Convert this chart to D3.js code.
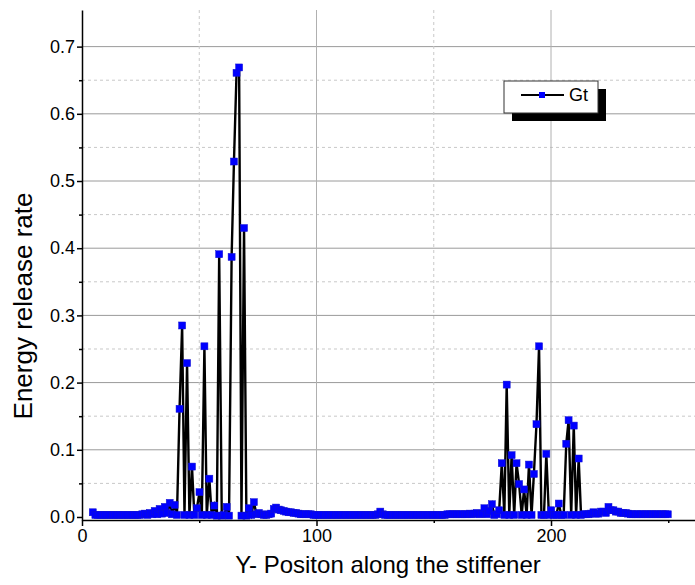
<!DOCTYPE html>
<html>
<head>
<meta charset="utf-8">
<script src="https://cdnjs.cloudflare.com/ajax/libs/d3/7.8.5/d3.min.js"></script>
<style>
  body { margin: 0; background: #fff; }
  svg { display: block; font-family: "Liberation Sans", Arial, sans-serif; }
</style>
</head>
<body>
<svg id="chart" width="695" height="585"></svg>
<script>
// sample positions along the stiffener (mm)
var positions = [
    4.6, 5.7, 6.7, 7.8, 8.8, 9.9, 10.9, 12.0, 13.1, 14.1,
    15.2, 16.2, 17.3, 18.3, 19.4, 20.5, 21.5, 22.6, 23.6, 24.7,
    25.7, 26.8, 27.9, 28.9, 30.0, 31.0, 32.1, 33.1, 34.2, 35.3,
    36.3, 37.4, 38.4, 39.5, 40.5, 41.6, 42.7, 43.7, 44.8, 45.8,
    46.9, 47.9, 49.0, 50.1, 51.1, 52.2, 53.2, 54.3, 55.3, 56.4,
    57.5, 58.5, 59.6, 60.6, 61.7, 62.7, 63.8, 64.8, 65.9, 67.0,
    68.0, 69.1, 70.1, 71.2, 72.2, 73.3, 74.4, 75.4, 76.5, 77.5,
    78.6, 79.6, 80.7, 81.8, 82.8, 83.9, 84.9, 86.0, 87.0, 88.1,
    89.2, 90.2, 91.3, 92.3, 93.4, 94.4, 95.5, 96.6, 97.6, 98.7,
    99.7, 100.8, 101.8, 102.9, 104.0, 105.0, 106.1, 107.1, 108.2, 109.2,
    110.3, 111.4, 112.4, 113.5, 114.5, 115.6, 116.6, 117.7, 118.8, 119.8,
    120.9, 121.9, 123.0, 124.0, 125.1, 126.2, 127.2, 128.3, 129.3, 130.4,
    131.4, 132.5, 133.6, 134.6, 135.7, 136.7, 137.8, 138.8, 139.9, 141.0,
    142.0, 143.1, 144.1, 145.2, 146.2, 147.3, 148.4, 149.4, 150.5, 151.5,
    152.6, 153.6, 154.7, 155.8, 156.8, 157.9, 158.9, 160.0, 161.0, 162.1,
    163.2, 164.2, 165.3, 166.3, 167.4, 168.4, 169.5, 170.5, 171.6, 172.7,
    173.7, 174.8, 175.8, 176.9, 177.9, 179.0, 180.1, 181.1, 182.2, 183.2,
    184.3, 185.3, 186.4, 187.5, 188.5, 189.6, 190.6, 191.7, 192.7, 193.8,
    194.9, 195.9, 197.0, 198.0, 199.1, 200.1, 201.2, 202.3, 203.3, 204.4,
    205.4, 206.5, 207.5, 208.6, 209.7, 210.7, 211.8, 212.8, 213.9, 214.9,
    216.0, 217.1, 218.1, 219.2, 220.2, 221.3, 222.3, 223.4, 224.5, 225.5,
    226.6, 227.6, 228.7, 229.7, 230.8, 231.9, 232.9, 234.0, 235.0, 236.1,
    237.1, 238.2, 239.3, 240.3, 241.4, 242.4, 243.5, 244.5, 245.6, 246.7,
    247.7, 248.8, 249.8
];

// Gt values at each position
var gtValues = [
    0.007, 0.003, 0.003, 0.003, 0.003, 0.003, 0.003, 0.003, 0.003, 0.003,
    0.003, 0.003, 0.003, 0.003, 0.003, 0.003, 0.003, 0.003, 0.003, 0.003,
    0.004, 0.005, 0.003, 0.006, 0.004, 0.009, 0.004, 0.012, 0.005, 0.015,
    0.006, 0.021, 0.004, 0.018, 0.003, 0.161, 0.285, 0.003, 0.229, 0.003,
    0.075, 0.003, 0.013, 0.037, 0.003, 0.254, 0.003, 0.057, 0.003, 0.017,
    0.002, 0.391, 0.002, 0.003, 0.015, 0.002, 0.387, 0.529, 0.661, 0.669,
    0.002, 0.430, 0.002, 0.013, 0.003, 0.022, 0.004, 0.006, 0.004, 0.003,
    0.003, 0.004, 0.005, 0.012, 0.014, 0.011, 0.010, 0.009, 0.008, 0.007,
    0.007, 0.006, 0.006, 0.005, 0.004, 0.004, 0.004, 0.004, 0.004, 0.003,
    0.003, 0.003, 0.003, 0.003, 0.003, 0.003, 0.003, 0.003, 0.003, 0.003,
    0.003, 0.003, 0.003, 0.003, 0.003, 0.003, 0.003, 0.003, 0.003, 0.003,
    0.003, 0.003, 0.003, 0.003, 0.003, 0.004, 0.008, 0.004, 0.003, 0.003,
    0.003, 0.003, 0.003, 0.003, 0.003, 0.003, 0.003, 0.003, 0.003, 0.003,
    0.003, 0.003, 0.003, 0.003, 0.003, 0.003, 0.003, 0.003, 0.003, 0.003,
    0.003, 0.003, 0.003, 0.004, 0.004, 0.004, 0.004, 0.004, 0.004, 0.004,
    0.004, 0.004, 0.005, 0.004, 0.005, 0.006, 0.004, 0.005, 0.013, 0.004,
    0.009, 0.019, 0.003, 0.004, 0.010, 0.080, 0.003, 0.197, 0.003, 0.092,
    0.003, 0.080, 0.049, 0.003, 0.041, 0.003, 0.078, 0.003, 0.064, 0.138,
    0.254, 0.003, 0.003, 0.094, 0.003, 0.010, 0.003, 0.003, 0.020, 0.003,
    0.003, 0.109, 0.144, 0.003, 0.136, 0.003, 0.087, 0.003, 0.004, 0.004,
    0.004, 0.005, 0.007, 0.005, 0.005, 0.008, 0.008, 0.006, 0.015, 0.010,
    0.010, 0.008, 0.008, 0.006, 0.006, 0.006, 0.005, 0.004, 0.004, 0.004,
    0.004, 0.004, 0.004, 0.004, 0.004, 0.004, 0.004, 0.004, 0.004, 0.004,
    0.004, 0.004, 0.004
];

var xMajor = [0, 100, 200];
var xMinor = [50, 150, 250];
var yMajor = [0, 0.1, 0.2, 0.3, 0.4, 0.5, 0.6, 0.7];
var yMinor = [0.05, 0.15, 0.25, 0.35, 0.45, 0.55, 0.65];
var seriesName = "Gt";

var data = positions.map(function (p, i) { return [p, gtValues[i]]; });

var svg = d3.select("#chart");

// plot box (note: "top" is a window property, so use other names)
var pLeft = 82, pRight = 695, pTop = 10, pBottom = 520;

var xScale = d3.scaleLinear().domain([0, 261.4]).range([pLeft, pRight]),
    yScale = d3.scaleLinear().domain([-0.0045, 0.7545]).range([pBottom, pTop]);

// grid
var grid = svg.append("g");
grid.selectAll(".hmaj").data(yMajor.slice(1)).enter().append("line")
    .attr("x1", pLeft).attr("x2", pRight)
    .attr("y1", function (d) { return yScale(d); })
    .attr("y2", function (d) { return yScale(d); })
    .style("stroke", "#9a9a9a").style("stroke-width", 1);
grid.selectAll(".hmin").data(yMinor).enter().append("line")
    .attr("x1", pLeft).attr("x2", pRight)
    .attr("y1", function (d) { return yScale(d); })
    .attr("y2", function (d) { return yScale(d); })
    .style("stroke", "#c8c8c8").style("stroke-width", 1)
    .style("stroke-dasharray", "3,3");
grid.selectAll(".vmaj").data(xMajor.slice(1)).enter().append("line")
    .attr("y1", pTop).attr("y2", pBottom)
    .attr("x1", function (d) { return xScale(d); })
    .attr("x2", function (d) { return xScale(d); })
    .style("stroke", "#b0b0b0").style("stroke-width", 1);
grid.selectAll(".vmin").data(xMinor.slice(0, 2)).enter().append("line")
    .attr("y1", pTop).attr("y2", pBottom)
    .attr("x1", function (d) { return xScale(d); })
    .attr("x2", function (d) { return xScale(d); })
    .style("stroke", "#c8c8c8").style("stroke-width", 1)
    .style("stroke-dasharray", "3,3");

// series line
var line = d3.line()
    .x(function (d) { return xScale(d[0]); })
    .y(function (d) { return yScale(d[1]); });

svg.append("path")
    .datum(data)
    .attr("d", line)
    .style("fill", "none")
    .style("stroke", "#000")
    .style("stroke-width", 2.4)
    .style("stroke-linejoin", "miter");

// markers
var ms = 7;
svg.append("g")
    .selectAll("rect")
    .data(data)
    .enter()
    .append("rect")
    .attr("x", function (d) { return xScale(d[0]) - ms / 2; })
    .attr("y", function (d) { return yScale(d[1]) - ms / 2; })
    .attr("width", ms)
    .attr("height", ms)
    .style("fill", "#0000ff")
    .style("stroke", "#1010d0")
    .style("stroke-width", 0.5);

// axes
var yAxis = svg.append("g")
    .attr("transform", "translate(" + pLeft + ",0)")
    .call(d3.axisLeft(yScale).tickValues(yMajor).tickSize(5).tickSizeOuter(0)
        .tickFormat(d3.format(".1f")));
svg.append("g")
    .attr("transform", "translate(" + pLeft + ",0)")
    .call(d3.axisLeft(yScale).tickValues(yMinor).tickSize(3).tickFormat(""))
    .select(".domain").remove();

var xAxis = svg.append("g")
    .attr("transform", "translate(0," + pBottom + ")")
    .call(d3.axisBottom(xScale).tickValues(xMajor).tickSize(6).tickSizeOuter(0));
svg.append("g")
    .attr("transform", "translate(0," + pBottom + ")")
    .call(d3.axisBottom(xScale).tickValues(xMinor).tickSize(3).tickFormat(""))
    .select(".domain").remove();

svg.selectAll(".domain, .tick line")
    .style("stroke", "#000")
    .style("stroke-width", 1.5);
yAxis.selectAll("text")
    .attr("x", -7)
    .style("font-size", "18px")
    .style("font-family", "Liberation Sans, Arial, sans-serif")
    .style("fill", "#000");
xAxis.selectAll("text")
    .attr("y", 9)
    .style("font-size", "18px")
    .style("font-family", "Liberation Sans, Arial, sans-serif")
    .style("fill", "#000");

// axis titles
svg.append("text")
    .attr("x", 388)
    .attr("y", 573)
    .attr("text-anchor", "middle")
    .style("font-size", "24px")
    .text("Y- Positon along the stiffener");

svg.append("text")
    .attr("text-anchor", "middle")
    .attr("transform", "translate(32," + 306 + ")rotate(-90)")
    .style("font-size", "26px")
    .text("Energy release rate");

// legend
var lg = svg.append("g").attr("transform", "translate(504,81)");
lg.append("rect")
    .attr("x", 8).attr("y", 8).attr("width", 94).attr("height", 32)
    .style("fill", "#000");
lg.append("rect")
    .attr("x", 0).attr("y", 0).attr("width", 94).attr("height", 32)
    .style("fill", "#fff")
    .style("stroke", "#333")
    .style("stroke-width", 1);
lg.append("line")
    .attr("x1", 17).attr("x2", 60).attr("y1", 14).attr("y2", 14)
    .style("stroke", "#000").style("stroke-width", 2);
lg.append("rect")
    .attr("x", 35).attr("y", 11).attr("width", 6).attr("height", 6)
    .style("fill", "#0000ff");
lg.append("text")
    .attr("x", 65).attr("y", 20)
    .style("font-size", "18px")
    .text(seriesName);
</script>
</body>
</html>
